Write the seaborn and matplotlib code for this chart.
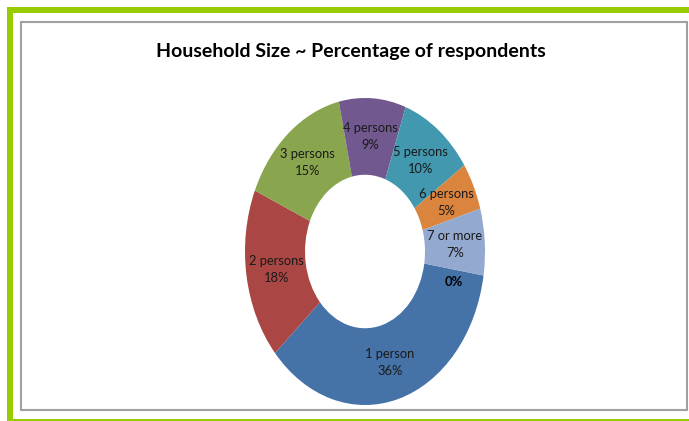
import matplotlib
matplotlib.use("Agg")
import matplotlib.pyplot as plt
from matplotlib.patches import Rectangle
import seaborn as sns

# Household size shares (percent of respondents)
categories = ["1 person", "2 persons", "3 persons", "4 persons",
              "5 persons", "6 persons", "7 or more", ""]
shares = [36, 18, 15, 9, 10, 5, 7, 0]
colors = ["#4572A7", "#AA4643", "#89A54E", "#71588F",
          "#4198AF", "#DB843D", "#93A9CF", "#A47D7C"]
title = "Household Size ~ Percentage of respondents"

sns.set_theme(style="white")
plt.rcParams["font.family"] = ["Lato", "DejaVu Sans"]

W, H = 689, 421
fig = plt.figure(figsize=(W / 100, H / 100), dpi=100)
fig.patch.set_facecolor("white")


def fx(px):
    return px / W


def fy(py):
    return 1 - py / H


# outer green frame (thick left/top, thin bottom)
green = "#99CC00"
fig.add_artist(Rectangle((fx(7), fy(421)), fx(6), fy(7) - fy(421),
                         transform=fig.transFigure, color=green, lw=0))
fig.add_artist(Rectangle((fx(7), fy(13)), fx(682), fy(7) - fy(13),
                         transform=fig.transFigure, color=green, lw=0))
fig.add_artist(Rectangle((fx(13), fy(421)), fx(676), fy(419) - fy(421),
                         transform=fig.transFigure, color=green, lw=0))
# inner grey chart-area border
fig.add_artist(Rectangle((fx(21), fy(410)), fx(666), fy(22) - fy(410),
                         transform=fig.transFigure, fill=False,
                         edgecolor="#A0A0A0", lw=1.5))

fig.text(fx(351), fy(51), title, ha="center", va="center",
         fontsize=14, fontweight="bold", color="#000000")

# donut axes: stretched ellipse
ax = fig.add_axes([fx(245), fy(405), fx(240), fy(98) - fy(405)])
palette = sns.color_palette(colors)
labels = [f"{c}\n{v}%" if c else f"{v}%" for c, v in zip(categories, shares)]
wedges, texts = ax.pie(shares, labels=labels, colors=palette,
                       startangle=-9, counterclock=False,
                       labeldistance=0.75, radius=1.0,
                       wedgeprops=dict(width=0.5, linewidth=0),
                       textprops=dict(fontsize=9.25, color="#1a1a1a"))
ax.set_aspect("auto")
ax.set_xlim(-1, 1)
ax.set_ylim(-1, 1)
for t, c in zip(texts, categories):
    t.set_ha("center")
    t.set_multialignment("center")
    t.set_linespacing(1.5)
    if not c:
        t.set_fontweight("bold")
        t.set_color("#000000")
        x, y = t.get_position()
        t.set_position((x, y - 0.08))

fig.savefig("out.png", dpi=100, facecolor="white")
